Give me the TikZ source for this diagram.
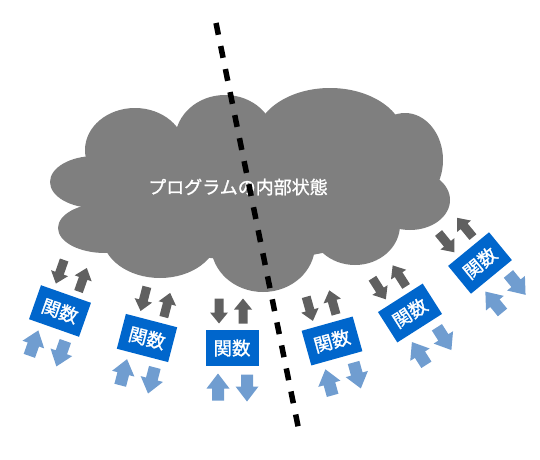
\documentclass[tikz,border=0pt]{standalone}
\usepackage{fontspec}
\newfontfamily\cjk[FakeBold=1.2]{Noto Sans CJK JP}
\definecolor{cloudgray}{RGB}{127,127,127}
\definecolor{boxblue}{RGB}{0,102,204}
\definecolor{arrgray}{RGB}{96,96,96}
\definecolor{arrblue}{RGB}{112,157,208}
\tikzset{
  gdown/.pic={\fill[arrgray] (-4.5,12.5)--(4.5,12.5)--(4.5,-1.5)--(9,-1.5)--(0,-12.5)--(-9,-1.5)--(-4.5,-1.5)--cycle;},
  gup/.pic={\fill[arrgray] (-4.5,-12.5)--(4.5,-12.5)--(4.5,1.5)--(9,1.5)--(0,12.5)--(-9,1.5)--(-4.5,1.5)--cycle;},
  bdown/.pic={\fill[arrblue] (-6,13.5)--(6,13.5)--(6,1.5)--(11.5,1.5)--(0,-13.5)--(-11.5,1.5)--(-6,1.5)--cycle;},
  bup/.pic={\fill[arrblue] (-6,-13.5)--(6,-13.5)--(6,-1.5)--(11.5,-1.5)--(0,13.5)--(-11.5,-1.5)--(-6,-1.5)--cycle;},
  funcbox/.style={fill=boxblue, minimum width=53pt, minimum height=36pt, inner sep=0pt,
    text=white, font=\cjk\fontsize{18.5}{18.5}\selectfont, transform shape},
  statelabel/.style={text=white, font=\cjk\fontsize{18}{18}\selectfont},
  divider/.style={line width=5.5pt, dash pattern=on 12pt off 11.5pt, black}
}
\newcommand\fgroup[4]{%
  \begin{scope}[shift={(#2,#3)}, rotate=#4]
    \node[funcbox] (#1) at (0,0) {関数};
    \pic[transform shape] at (-13,37) {gdown};
    \pic[transform shape] at (11,37) {gup};
    \pic[transform shape] at (-14,-39) {bup};
    \pic[transform shape] at (15,-40) {bdown};
  \end{scope}}
\begin{document}
\begin{tikzpicture}[x=1pt,y=1pt]
  \useasboundingbox (0,0) rectangle (540,459);
  % cloud
  \begin{scope}[fill=cloudgray]
    \fill (135,309) ellipse [x radius=50, y radius=42];
    \fill (225,319) ellipse [x radius=50, y radius=45];
    \fill (330,319) ellipse [x radius=75, y radius=52];
    \fill (405,299) ellipse [x radius=38, y radius=47];
    \fill (410,259) ellipse [x radius=40, y radius=30];
    \fill (95,277) ellipse [x radius=45, y radius=26];
    \fill (105,231) ellipse [x radius=47, y radius=25];
    \fill (160,224) ellipse [x radius=58, y radius=43];
    \fill (263,214) ellipse [x radius=52, y radius=47];
    \fill (355,234) ellipse [x radius=45, y radius=40];
    \fill (250,264) ellipse [x radius=160, y radius=65];
  \end{scope}
  \node[statelabel] (state) at (238,272) {プログラムの内部状態};
  % function boxes
  \fgroup{f1}{60}{148}{-19.4}
  \fgroup{f2}{147}{121}{-14.6}
  \fgroup{f3}{232}{111}{0}
  \fgroup{f4}{332}{118}{15.6}
  \fgroup{f5}{410}{146}{32.5}
  \fgroup{f6}{480}{196}{39.4}
  % dashed divider
  \coordinate (dtop) at (216,436);
  \coordinate (dbot) at (299,28);
  \draw[divider] (dtop) -- (dbot);
\end{tikzpicture}
\end{document}
